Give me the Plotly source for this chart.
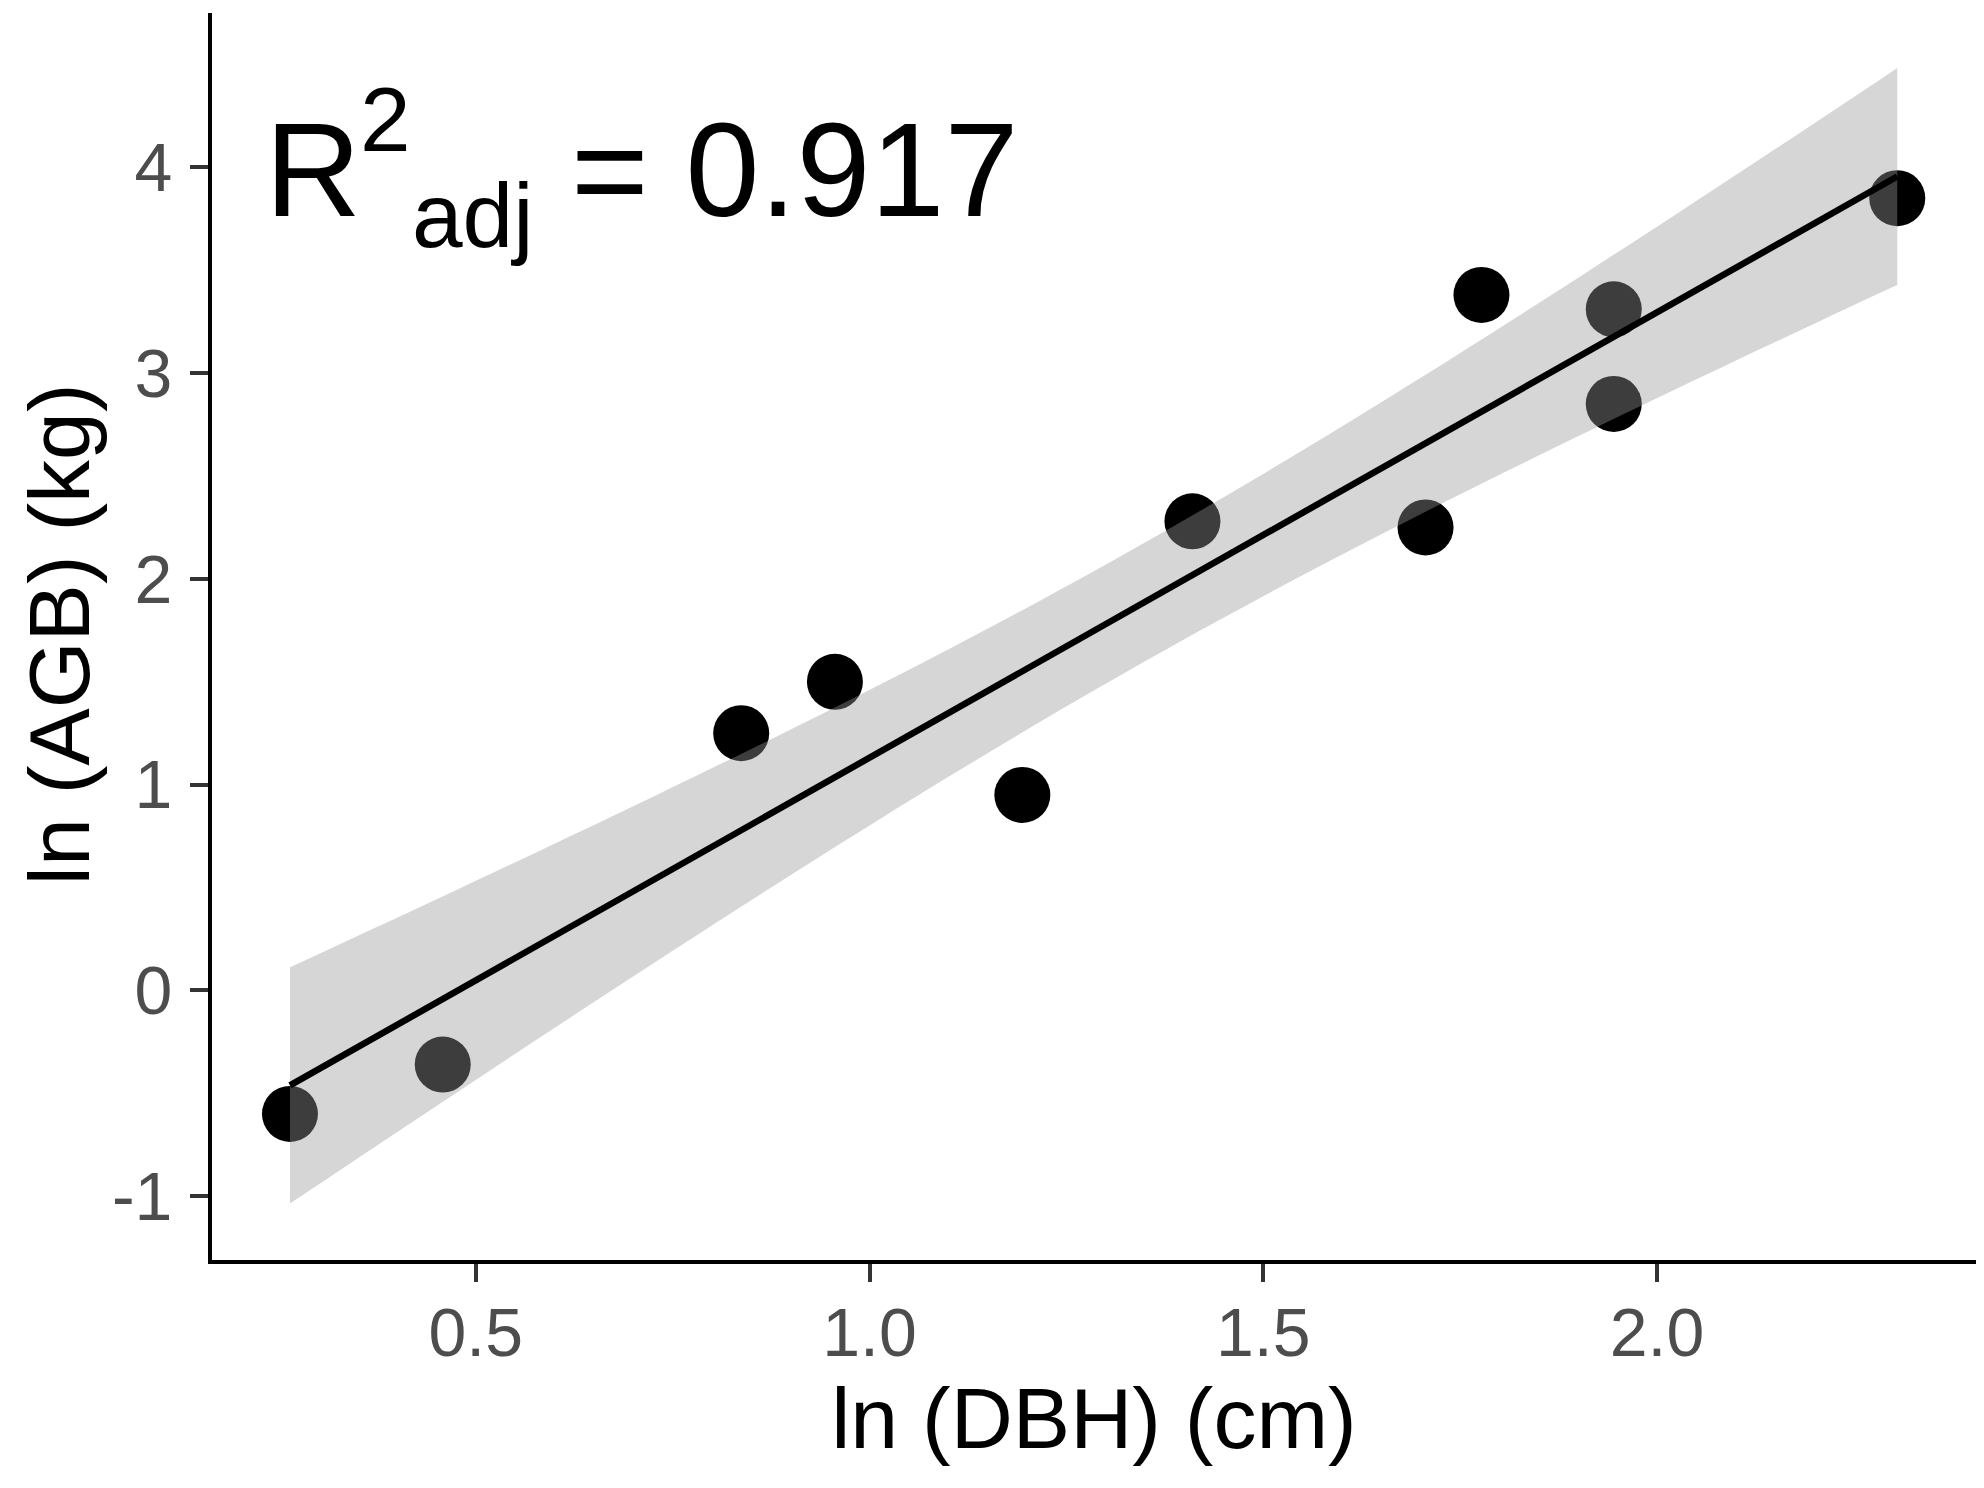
import numpy as np
import plotly.graph_objects as go

# values
lnDbh = [0.264, 0.458, 0.837, 0.956, 1.194, 1.41, 1.706, 1.777, 1.945, 1.945, 2.305]
lnAgb = [-0.60, -0.36, 1.25, 1.50, 0.95, 2.28, 2.25, 3.38, 3.31, 2.85, 3.85]
xTicks = [0.5, 1.0, 1.5, 2.0]
xTickText = ["0.5", "1.0", "1.5", "2.0"]
yTicks = [-1, 0, 1, 2, 3, 4]
yTickText = ["-1", "0", "1", "2", "3", "4"]

# lm fit with 95% band, like geom_smooth(method = "lm")
x = np.array(lnDbh)
y = np.array(lnAgb)
n = len(x)
slope, intercept = np.polyfit(x, y, 1)
resid = y - (intercept + slope * x)
s = np.sqrt(np.sum(resid ** 2) / (n - 2))
sxx = np.sum((x - x.mean()) ** 2)
tCrit = 2.262  # t(0.975, df = 9)
grid = np.linspace(x.min(), x.max(), 80)
fit = intercept + slope * grid
half = tCrit * s * np.sqrt(1 / n + (grid - x.mean()) ** 2 / sxx)

fontFamily = "Liberation Sans, Arial"
tickFont = {"family": fontFamily, "size": 68, "color": "#4d4d4d"}
titleFont = {"family": fontFamily, "size": 86, "color": "black"}

fig = go.Figure()
fig.add_trace(go.Scatter(x=lnDbh, y=lnAgb, mode="markers", marker={"size": 56, "color": "black"},
                         showlegend=False, hoverinfo="skip"))
# semi-transparent band drawn over the points, as ggplot does
fig.add_trace(go.Scatter(x=np.concatenate([grid, grid[::-1]]), y=np.concatenate([fit - half, (fit + half)[::-1]]),
                         mode="none", fill="toself", fillcolor="rgba(153,153,153,0.4)", showlegend=False, hoverinfo="skip"))
fig.add_trace(go.Scatter(x=grid, y=fit, mode="lines", line={"color": "black", "width": 6.5}, showlegend=False))

# R^2_adj label, split so the super/subscript sit like the plotmath ones
labelParts = [
    ("R", 133, 0.0289, 0.8741),
    ("2", 91, 0.0828, 0.9142),
    ("adj", 91, 0.1122, 0.8380),
    ("= 0.917", 133, 0.2024, 0.8741),
]
for text, size, px, py in labelParts:
    fig.add_annotation(text=text, xref="paper", yref="paper", x=px, y=py, xanchor="left", yanchor="middle",
                       showarrow=False, font={"family": fontFamily, "size": size, "color": "black"})

# y title as a rotated label so it can sit as far left as in the original
fig.add_annotation(text="ln (AGB) (kg)", xref="paper", yref="paper", x=-0.1150, y=0.502, xanchor="left",
                   yanchor="middle", textangle=-90, showarrow=False, font=titleFont)

fig.update_layout(
    width=1984, height=1488,
    margin={"l": 204, "r": 16, "t": 5, "b": 236},
    plot_bgcolor="white", paper_bgcolor="white",
    xaxis={"range": [0.165, 2.405], "tickvals": xTicks, "ticktext": xTickText, "showgrid": False, "zeroline": False,
           "showline": True, "linecolor": "black", "linewidth": 4, "ticks": "outside", "ticklen": 18, "tickwidth": 4,
           "tickcolor": "#333333", "tickfont": tickFont, "ticklabelstandoff": -8, "automargin": False,
           "title": {"text": "ln (DBH) (cm)", "font": titleFont, "standoff": 20}},
    yaxis={"range": [-1.31, 4.75], "tickvals": yTicks, "ticktext": yTickText, "showgrid": False, "zeroline": False,
           "showline": True, "linecolor": "black", "linewidth": 4, "ticks": "outside", "ticklen": 18, "tickwidth": 4,
           "tickcolor": "#333333", "tickfont": tickFont, "ticklabelstandoff": 4, "automargin": False},
)

fig.write_html("out.html")
